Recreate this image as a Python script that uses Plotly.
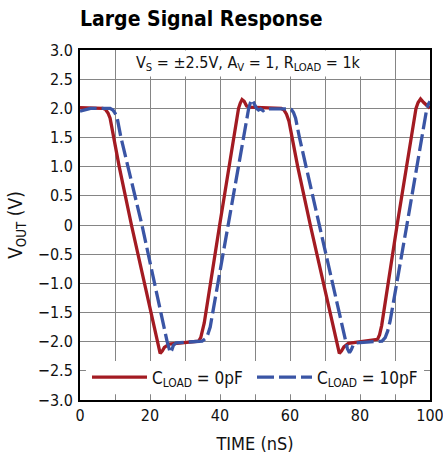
import plotly.graph_objects as go

# ---- data ----
t_0pF = [0, 6.5, 7.3, 8.0, 8.6, 11.2, 14.7, 22.5, 22.9, 23.5, 24.1, 25.5, 27.0, 30.0, 33.9,
         34.5, 35.0, 35.5, 39.9, 45.3, 45.8, 46.3, 46.9, 47.6, 48.3, 52.0, 57.5, 58.3, 59.0,
         59.7, 62.2, 65.8, 73.6, 74.1, 74.7, 75.4, 76.7, 81.0, 85.0, 85.6, 86.2, 90.6, 96.0,
         96.6, 97.3, 98.2, 99.5, 100]
v_0pF = [2.01, 2.00, 1.98, 1.92, 1.83, 1.00, 0.00, -2.12, -2.20, -2.16, -2.10, -2.04, -2.03,
         -2.02, -1.99, -1.93, -1.82, -1.68, 0.00, 2.00, 2.09, 2.15, 2.12, 2.04, 2.02, 2.01,
         2.00, 1.97, 1.90, 1.78, 1.00, 0.00, -2.12, -2.20, -2.16, -2.09, -2.03, -2.00, -1.96,
         -1.88, -1.72, 0.00, 2.00, 2.10, 2.16, 2.10, 2.02, 2.00]

t_10pF = [0, 1.5, 3.0, 8.6, 9.4, 10.0, 10.6, 11.7, 17.7, 24.9, 25.3, 25.8, 26.2, 26.7, 27.5,
          30.0, 34.9, 35.8, 36.5, 37.2, 42.3, 48.2, 48.7, 49.1, 49.6, 50.4, 51.0, 51.6, 52.3,
          53.0, 59.6, 60.4, 61.0, 61.6, 62.7, 75.8, 76.4, 77.0, 77.5, 78.2, 79.0, 86.3, 87.2,
          87.9, 88.6, 93.4, 99.1, 99.6, 100]
v_10pF = [1.95, 1.98, 2.00, 2.00, 1.97, 1.92, 1.84, 1.50, 0.00, -2.00, -2.10, -2.19, -2.15,
          -2.06, -2.02, -2.01, -1.99, -1.95, -1.88, -1.75, 0.00, 2.00, 2.10, 2.15, 2.10, 2.00,
          1.97, 1.99, 1.96, 1.99, 1.99, 1.98, 1.93, 1.83, 1.50, -2.00, -2.12, -2.19, -2.14,
          -2.04, -2.02, -1.99, -1.93, -1.82, -1.65, 0.00, 2.00, 2.08, 2.12]

y_ticks = [3.0, 2.5, 2.0, 1.5, 1.0, 0.5, 0, -0.5, -1.0, -1.5, -2.0, -2.5, -3.0]
y_labels = ["3.0", "2.5", "2.0", "1.5", "1.0", "0.5", "0", "\u22120.5", "\u22121.0",
            "\u22121.5", "\u22122.0", "\u22122.5", "\u22123.0"]
x_ticks = [0, 20, 40, 60, 80, 100]
x_labels = ["0", "20", "40", "60", "80", "100"]
x_minor_step = 10

FONT = "DejaVu Sans Condensed, DejaVu Sans, sans-serif"
RED = "#A31B22"
BLUE = "#3A55A5"
GRID = "#858585"

W, H = 443, 460

fig = go.Figure()
fig.add_trace(go.Scatter(x=t_0pF, y=v_0pF, mode="lines", name="C<sub>LOAD</sub> = 0pF",
                         line=dict(color=RED, width=3.3)))
fig.add_trace(go.Scatter(x=t_10pF, y=v_10pF, mode="lines", name="C<sub>LOAD</sub> = 10pF",
                         line=dict(color=BLUE, width=3.3, dash="17px,5px")))

# white band behind the legend (covers the grid there)
fig.add_shape(type="rect", xref="x domain", yref="y", x0=0.017, x1=0.983, y0=-2.9, y1=-2.33,
              fillcolor="white", line=dict(width=0), layer="above")

fig.add_annotation(x=48, y=2.77, xref="x", yref="y",
                   text="V<sub>S</sub> = \u00b12.5V, A<sub>V</sub> = 1, R<sub>LOAD</sub> = 1k",
                   showarrow=False, bgcolor="white", borderpad=2,
                   font=dict(family=FONT, size=16, color="#111"))

fig.update_layout(
    width=W, height=H,
    margin=dict(l=80, r=13, t=50, b=60),
    paper_bgcolor="white", plot_bgcolor="white",
    font=dict(family=FONT, size=16, color="#111"),
    title=dict(text="<b>Large Signal Response</b>", x=80 / W, xanchor="left",
               xref="container", y=1 - 19 / H, yref="container", yanchor="middle",
               font=dict(family=FONT, size=21, color="#000")),
    showlegend=True,
    legend=dict(orientation="h", x=0.02, y=0.064, xanchor="left", yanchor="middle",
                bgcolor="rgba(0,0,0,0)", font=dict(family=FONT, size=17, color="#111"),
                itemwidth=55, entrywidth=95),
)
fig.update_xaxes(range=[0, 100], tickvals=x_ticks, ticktext=x_labels,
                 showgrid=True, gridcolor=GRID, gridwidth=1, zeroline=False,
                 minor=dict(dtick=x_minor_step, showgrid=True, gridcolor=GRID, gridwidth=1),
                 showline=True, linecolor="black", linewidth=2, mirror=True,
                 ticks="", tickfont=dict(size=16), ticklabeloverflow="allow",
                 title=dict(text="TIME (nS)", standoff=13, font=dict(size=18)),
                 automargin=False)
fig.update_yaxes(range=[-3, 3], tickvals=y_ticks, ticktext=y_labels,
                 showgrid=True, gridcolor=GRID, gridwidth=1, zeroline=False,
                 showline=True, linecolor="black", linewidth=2, mirror=True,
                 ticks="", tickfont=dict(size=16), ticklabelstandoff=2,
                 title=dict(text="V<sub>OUT</sub> (V)", standoff=10, font=dict(size=19)),
                 automargin=False)

fig.write_html(
    "out.html",
    config={"displayModeBar": False},
    post_script="document.body.style.margin='0';document.body.style.overflow='hidden';",
)
